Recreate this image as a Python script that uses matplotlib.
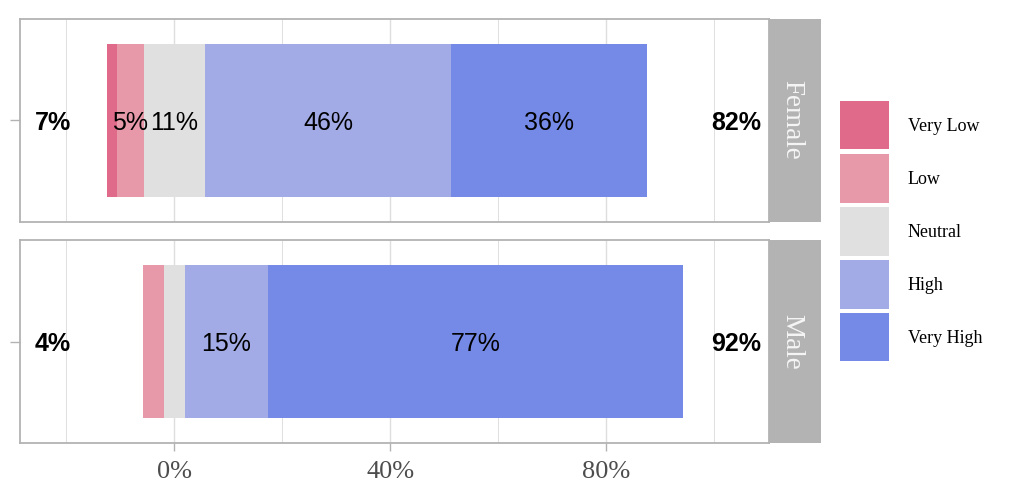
import matplotlib
matplotlib.use("Agg")
import matplotlib.pyplot as plt
from matplotlib.patches import Rectangle

groups = ["Female", "Male"]
levels = ["Very Low", "Low", "Neutral", "High", "Very High"]
colors = ["#E06A89", "#E899A9", "#E0E0E0", "#A2ABE5", "#758AE7"]
values = {
    "Female": [1.8, 5.0, 11.3, 45.6, 36.3],
    "Male":   [0.0, 3.9, 3.9, 15.3, 76.9],
}
xticks = [0, 40, 80]
xtick_labels = ["0%", "40%", "80%"]
minor_ticks = [-20, 20, 60, 100]

W, H = 1010, 497
fig = plt.figure(figsize=(W / 100, H / 100), dpi=100)

def ax_rect(x0, y0, x1, y1):
    return [x0 / W, 1 - y1 / H, (x1 - x0) / W, (y1 - y0) / H]

border = "#b3b3b3"
grid = "#dedede"
serif = "Liberation Serif"
sans = "Liberation Sans"
xmin, xmax = -28.6, 110.1
ty = -0.015

panels = [(18.5, 222), (240, 443)]
for gi, (g, (ytop, ybot)) in enumerate(zip(groups, panels)):
    ax = fig.add_axes(ax_rect(20, ytop, 769, ybot))
    vl, lo, ne, hi, vh = values[g]
    starts = [-ne / 2 - lo - vl, -ne / 2 - lo, -ne / 2, ne / 2, ne / 2 + hi]
    vals = [vl, lo, ne, hi, vh]
    for s, v, c in zip(starts, vals, colors):
        if v > 0:
            ax.barh(0, v, left=s, height=0.9, color=c, linewidth=0, zorder=3)
    for s, v in zip(starts, vals):
        if v >= 5:
            ax.text(s + v / 2, ty, f"{round(v)}%", ha="center", va="center",
                    fontsize=18, family=sans, color="black", zorder=4)
    left_total = vl + lo
    right_total = hi + vh
    ax.text(-22.5, ty, f"{round(left_total)}%", ha="center", va="center",
            fontsize=18, family=sans, fontweight="bold", color="black", zorder=4)
    ax.text(104.0, ty, f"{round(right_total)}%", ha="center", va="center",
            fontsize=18, family=sans, fontweight="bold", color="black", zorder=4)
    ax.set_xlim(xmin, xmax)
    ax.set_ylim(-0.6, 0.6)
    for t in xticks:
        ax.axvline(t, color=grid, lw=1.0, zorder=1)
    for t in minor_ticks:
        ax.axvline(t, color=grid, lw=0.7, zorder=1)
    ax.set_xticks(xticks)
    ax.set_yticks([0])
    ax.set_yticklabels([""])
    ax.tick_params(axis="y", length=7, color=border, width=1)
    if gi == 1:
        ax.set_xticklabels(xtick_labels, family=serif, fontsize=19, color="#4d4d4d")
        ax.tick_params(axis="x", length=6, color=border, width=1, pad=7)
    else:
        ax.tick_params(axis="x", length=0, labelbottom=False)
    for sp in ax.spines.values():
        sp.set_color(border)
        sp.set_linewidth(1.3)
    sax = fig.add_axes(ax_rect(769, ytop, 820.7, ybot))
    sax.set_facecolor(border)
    sax.set_xticks([])
    sax.set_yticks([])
    for sp in sax.spines.values():
        sp.set_visible(False)
    sax.text(0.45, 0.5, g, rotation=270, ha="center", va="center",
             transform=sax.transAxes, family=serif, fontsize=19.5, color="#f5f5f5")

# legend
key_x0, key_x1 = 840, 888.7
key_tops = [100.7, 154, 207.3, 259.8, 312.7]
key_h = 48.7
lax = fig.add_axes([0, 0, 1, 1], facecolor="none")
lax.set_xlim(0, W)
lax.set_ylim(H, 0)
lax.axis("off")
for lev, c, t in zip(levels, colors, key_tops):
    lax.add_patch(Rectangle((key_x0, t), key_x1 - key_x0, key_h, color=c, lw=0))
    lax.text(908, t + key_h / 2 + 1, lev, ha="left", va="center", family=serif,
             fontsize=13, color="black")

fig.savefig("out.png", dpi=100)
